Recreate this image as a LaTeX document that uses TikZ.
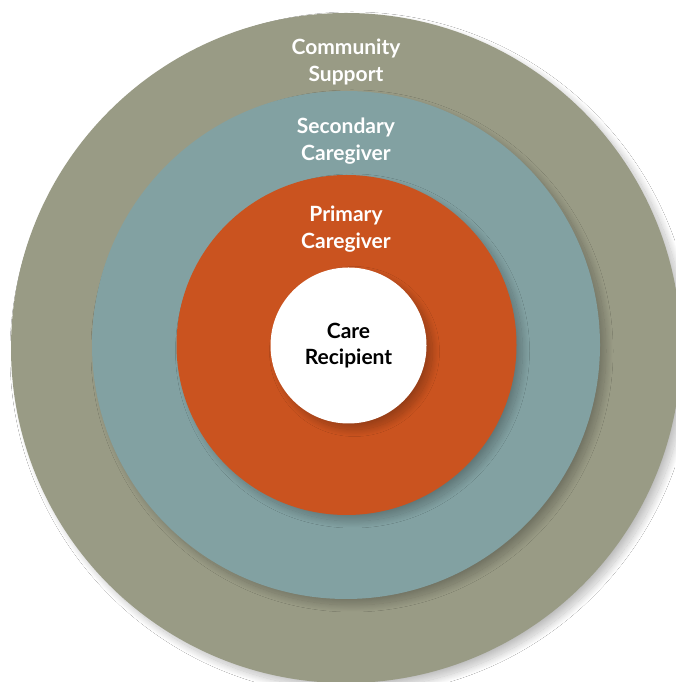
\documentclass[tikz,border=0pt]{standalone}
\usepackage{fontspec}
\setmainfont{Lato}
\usetikzlibrary{shadows.blur}
\definecolor{commc}{HTML}{999B85}
\definecolor{secc}{HTML}{82A1A2}
\definecolor{primc}{HTML}{CA531F}
\tikzset{
  ring/.style={circle, inner sep=0pt, draw=none,
    blur shadow={shadow xshift=6pt, shadow yshift=-6pt, shadow blur radius=7pt, shadow blur steps=24, shadow opacity=25}},
  lab/.style={align=center, font=\fontsize{21}{26.5}\selectfont\bfseries, text=white}
}
\begin{document}
\begin{tikzpicture}[x=1pt,y=1pt]
\useasboundingbox (0,0) rectangle (675,682);
\fill[white] (0,0) rectangle (675,682);
\node[ring, fill=commc, minimum size=670pt] (comm) at (346,334) {};
\node[ring, fill=secc, minimum size=508pt] (sec) at (346,337) {};
\node[ring, fill=primc, minimum size=340pt] (prim) at (346.5,337) {};
\node[ring, fill=white, minimum size=156pt, align=center,
  font=\fontsize{21}{26.5}\selectfont\bfseries, text=black] (care) at (348.5,336.5) {Care\\Recipient};
\node[lab] (commlab) at (346,620) {Community\\Support};
\node[lab] (seclab) at (346,541) {Secondary\\Caregiver};
\node[lab] (primlab) at (346,453) {Primary\\Caregiver};
\end{tikzpicture}
\end{document}
